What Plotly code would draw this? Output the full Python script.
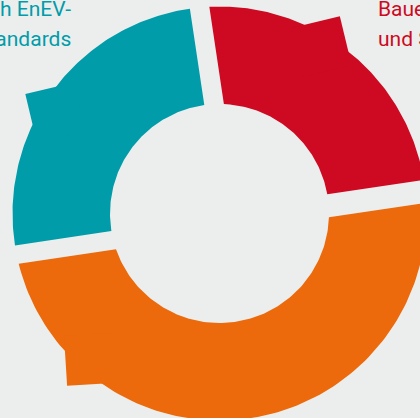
import numpy as np
import plotly.graph_objects as go

# ---------------- data ----------------
CATEGORIES = ["Bauen und Sanieren", "Übrige", "Sanierung nach EnEV-Standards"]
SHARES = [25, 50, 25]          # percent, clockwise from the top
LABEL_RED = ["Bauen", "und Sanieren"]
LABEL_TEAL = ["nach EnEV-", "Standards"]

# ---------------- styles / layout ----------------
COLORS = ["#CD0A22", "#EC6A0C", "#009CAA"]
BG = "#ECEEED"
W, H = 420, 418
CX, CY = 219.5, 213.5            # donut centre in pixels (from top-left)
R_OUT, R_IN = 207.0, 109.5
START_ANGLE = 98.5               # degrees, math convention, slices go clockwise
EDGE_INSET = [(20.5, 3.0), (20.0, 20.0), (-1.4, -1.0)]   # gap inset of start/end edge
TAB_ANGLE = [58.6, 228.5, 148.4]
TAB_TIP_R = [231.0, 230.0, 228.0]
TAB_SIDE = 50.0
FONT = "Roboto"
FONT_SIZE = 21


def arc(r, a0, a1, n=120):
    t = np.radians(np.linspace(a0, a1, n))
    return r * np.cos(t), r * np.sin(t)


def slice_polygon(a_start, a_end, ds, de):
    o0 = a_start - np.degrees(np.arcsin(ds / R_OUT))
    o1 = a_end + np.degrees(np.arcsin(de / R_OUT))
    i0 = a_start - np.degrees(np.arcsin(ds / R_IN))
    i1 = a_end + np.degrees(np.arcsin(de / R_IN))
    xo, yo = arc(R_OUT, o0, o1)
    xi, yi = arc(R_IN, i1, i0)
    x = np.concatenate([xo, xi, xo[:1]])
    y = np.concatenate([yo, yi, yo[:1]])
    return x, y


def tab_polygon(phi, rt, side):
    p = np.radians(phi)
    tip = np.array([rt * np.cos(p), rt * np.sin(p)])
    inward = np.radians(phi + 180)
    pts = [tip]
    for ang, length in [(inward + np.pi / 4, side), (inward, side * np.sqrt(2)), (inward - np.pi / 4, side)]:
        pts.append(tip + length * np.array([np.cos(ang), np.sin(ang)]))
    pts.append(tip)
    pts = np.array(pts)
    return pts[:, 0], pts[:, 1]


fig = go.Figure()
total = float(sum(SHARES))
a = START_ANGLE
for i, (cat, val) in enumerate(zip(CATEGORIES, SHARES)):
    span = 360.0 * val / total
    a_end = a - span
    ds, de = EDGE_INSET[i]
    x, y = slice_polygon(a, a_end, ds, de)
    fig.add_trace(go.Scatter(x=x, y=y, mode="lines", fill="toself",
                             fillcolor=COLORS[i], line=dict(width=0, color=COLORS[i]),
                             name=cat, hoverinfo="name", showlegend=False))
    tx, ty = tab_polygon(TAB_ANGLE[i], TAB_TIP_R[i], TAB_SIDE)
    fig.add_trace(go.Scatter(x=tx, y=ty, mode="lines", fill="toself",
                             fillcolor=COLORS[i], line=dict(width=0, color=COLORS[i]),
                             name=cat, hoverinfo="skip", showlegend=False))
    a = a_end

annotations = []
line_centres = [9.5, 39.0]
for k, txt in enumerate(LABEL_TEAL):
    annotations.append(dict(text=txt, xref="paper", yref="paper", x=73 / W,
                            y=1 - line_centres[k] / H, xanchor="right", yanchor="middle",
                            showarrow=False, font=dict(family=FONT, size=FONT_SIZE, color=COLORS[2])))
for k, txt in enumerate(LABEL_RED):
    annotations.append(dict(text=txt, xref="paper", yref="paper", x=376 / W,
                            y=1 - line_centres[k] / H, xanchor="left", yanchor="middle",
                            showarrow=False, font=dict(family=FONT, size=FONT_SIZE, color=COLORS[0])))

fig.update_layout(
    width=W, height=H, margin=dict(l=0, r=0, t=0, b=0, pad=0),
    paper_bgcolor=BG, plot_bgcolor=BG,
    xaxis=dict(range=[-CX, W - CX], visible=False, fixedrange=True),
    yaxis=dict(range=[-(H - CY), CY], visible=False, fixedrange=True),
    annotations=annotations, showlegend=False,
)

fig.write_html(
    "out.html",
    config={"displayModeBar": False},
    post_script="document.body.style.margin='0';document.body.style.padding='0';"
                "document.body.style.overflow='hidden';document.body.style.background='" + BG + "';",
)
